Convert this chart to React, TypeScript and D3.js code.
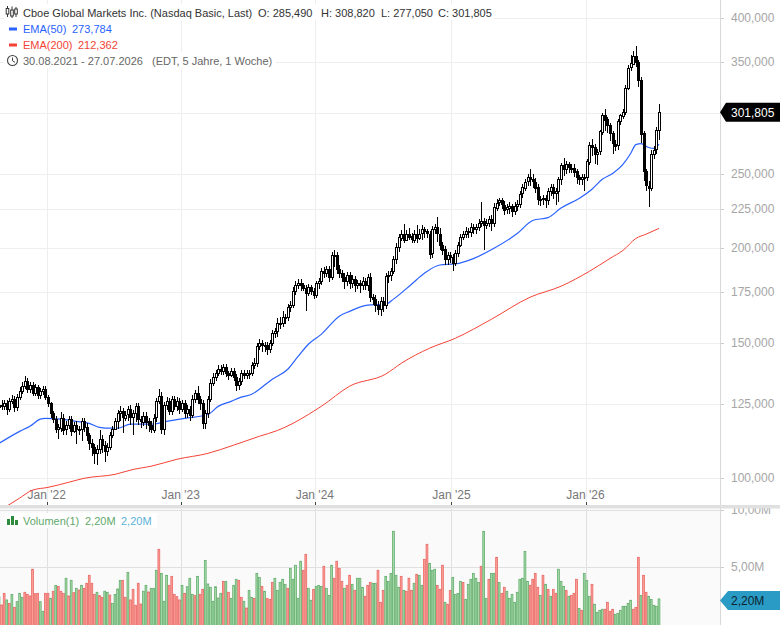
import React, { useRef, useEffect } from 'react';
import * as d3 from 'd3';

// weekly closes, one per week starting 30.08.2021
const closes = [
  124.6,124.2,125.3,123.1,126.1,126.9,123.9,127.7,130.0,132.0,
  134.0,130.8,132.4,129.2,131.6,128.4,130.0,130.8,127.7,125.3,
  121.6,119.4,115.9,116.6,120.1,115.9,117.3,119.4,115.2,117.3,
  115.9,115.9,118.7,116.6,113.8,111.1,109.9,107.8,109.1,112.5,
  110.5,108.5,109.9,113.8,115.9,118.7,121.6,122.4,120.1,121.2,
  123.1,120.1,121.6,124.2,119.4,118.7,120.8,118.7,117.3,115.9,
  120.1,126.1,128.0,115.9,124.6,126.1,122.4,126.9,124.2,126.1,
  123.1,125.3,121.6,123.1,120.8,126.9,129.2,126.9,125.3,118.0,
  121.6,126.9,133.2,135.7,137.3,139.0,138.1,139.8,137.3,136.5,
  138.1,135.7,132.4,134.0,137.3,136.5,137.3,137.3,140.6,141.4,
  148.9,150.2,149.3,149.3,147.5,150.2,154.9,155.8,159.6,159.6,
  162.4,162.4,167.4,168.5,175.7,179.0,180.0,179.0,177.3,174.6,
  177.9,175.7,173.5,180.0,181.0,186.6,185.5,187.7,183.2,195.8,
  195.8,187.7,185.5,183.2,181.0,184.3,180.0,182.1,179.0,180.0,
  179.0,181.0,179.0,183.2,172.6,171.5,168.5,166.4,170.5,168.5,
  183.8,184.3,186.6,193.4,200.5,206.7,209.1,205.4,209.1,207.3,
  205.4,209.1,206.7,209.1,211.7,210.4,209.1,196.9,211.7,213.0,
  209.1,202.3,199.3,193.4,195.8,194.6,191.1,196.9,201.7,206.7,
  208.5,210.4,209.8,213.0,211.7,213.0,215.6,216.9,214.2,215.6,
  218.2,215.6,226.2,229.6,231.0,228.2,224.8,226.2,227.5,224.2,
  227.5,228.9,235.9,240.3,244.6,247.7,246.2,244.6,240.3,231.7,
  231.7,232.4,231.0,237.4,240.3,235.9,237.4,246.2,256.7,253.6,
  257.5,255.1,255.1,252.1,247.7,246.2,247.7,247.7,259.8,273.4,
  271.8,266.1,267.7,284.4,299.3,294.9,289.6,282.7,274.2,272.6,
  293.1,298.5,302.0,324.7,344.8,349.3,357.5,351.1,332.6,282.7,
  252.1,241.6,240.3,266.1,269.3,285.49,301.805,
];

const highs = [
  126.0,126.5,126.8,126.5,127.5,128.5,128.2,129.0,131.5,133.5,
  136.2,135.2,133.8,133.6,132.8,132.6,131.2,132.0,132.0,128.5,
  126.0,122.5,120.5,117.8,122.0,121.5,118.8,120.5,120.6,118.5,
  119.0,117.2,119.8,119.8,118.0,114.8,112.5,111.0,110.5,115.5,
  113.8,111.8,111.2,115.0,117.2,120.0,123.0,124.5,123.6,122.5,
  124.5,124.8,122.8,125.5,125.6,120.5,122.0,122.2,120.0,119.0,
  121.5,127.5,130.8,129.6,126.0,127.8,127.2,128.2,128.0,127.8,
  127.5,126.8,126.5,124.8,124.2,128.5,130.6,132.0,128.0,126.8,
  122.8,128.2,134.8,137.5,138.8,140.6,140.8,141.2,141.0,138.2,
  139.5,139.4,136.8,135.4,138.8,138.4,138.8,138.8,142.0,143.5,
  150.5,152.0,151.5,150.8,150.8,151.8,156.5,157.5,162.0,162.8,
  165.5,164.2,169.2,170.5,177.8,181.0,182.5,182.2,180.2,179.2,
  179.5,179.2,177.5,181.5,183.0,188.5,189.0,189.5,189.8,197.8,
  199.0,197.5,190.0,187.2,185.5,186.0,186.0,184.5,183.8,182.0,
  182.0,183.5,183.0,185.0,185.5,174.5,173.5,170.5,172.5,172.8,
  185.5,186.5,188.5,195.5,203.0,209.0,211.5,215.0,211.5,212.5,
  209.5,211.5,214.5,212.0,214.5,213.5,212.0,210.5,214.0,215.5,
  220.0,212.5,204.0,201.5,197.5,197.5,196.5,199.0,204.0,209.0,
  211.0,213.5,212.5,216.0,215.5,215.5,218.5,230.0,219.0,218.5,
  220.5,221.0,229.0,232.0,233.0,232.5,230.5,228.5,230.0,228.5,
  230.0,231.0,238.0,242.5,246.5,250.0,254.0,250.0,247.0,243.0,
  234.0,235.0,234.5,239.5,243.0,243.0,239.5,248.0,258.5,262.5,
  260.0,259.5,258.0,258.0,254.0,249.5,250.0,250.0,262.0,275.5,
  278.0,274.0,270.0,286.0,301.0,304.0,297.0,292.0,285.0,277.0,
  295.0,300.0,304.0,327.0,347.0,358.0,362.0,368.0,353.0,335.0,
  285.0,254.0,245.0,269.0,272.0,288.0,308.82,
];

const lows = [
  122.5,123.0,123.0,121.0,122.0,125.0,122.0,122.5,126.5,129.0,
  131.0,129.5,129.5,128.0,128.0,127.0,127.0,128.5,126.5,124.0,
  120.0,118.0,114.5,112.5,115.0,114.0,114.0,116.0,113.5,114.5,
  111.0,114.0,112.0,115.0,112.0,109.0,107.0,104.5,104.2,107.5,
  108.0,105.0,107.0,109.0,113.0,115.5,116.0,119.0,114.5,119.0,
  119.0,117.5,114.0,118.5,117.5,116.5,117.0,116.0,115.0,114.5,
  114.5,118.5,125.0,114.2,114.0,123.0,121.0,121.0,123.0,122.5,
  121.5,122.0,120.0,120.0,119.0,120.0,125.5,125.0,123.0,116.0,
  116.0,120.0,126.0,132.0,134.0,136.0,136.5,136.5,135.5,134.5,
  135.5,134.0,130.0,130.5,132.5,135.0,135.0,135.0,136.0,139.0,
  140.0,147.0,146.5,146.5,145.0,146.0,149.0,152.5,153.0,157.0,
  158.0,159.0,160.5,165.0,167.0,174.0,177.0,176.0,176.0,165.5,
  173.0,173.5,171.5,172.0,177.0,179.0,183.0,183.5,180.5,182.0,
  189.0,185.0,183.0,180.5,177.0,178.5,177.0,177.5,175.5,177.0,
  175.0,176.5,176.5,176.0,170.0,168.5,165.0,163.5,163.0,165.0,
  166.5,180.0,181.0,185.0,191.0,198.0,204.5,203.0,205.0,205.0,
  203.0,203.5,203.0,205.0,205.0,206.0,206.0,193.5,194.0,209.0,
  204.0,199.0,196.0,190.0,190.0,191.5,186.5,189.5,195.0,201.0,
  205.0,206.0,206.0,207.0,209.0,209.0,211.0,213.0,199.0,212.0,
  213.0,211.0,213.0,224.0,227.0,225.0,221.0,222.0,222.0,220.0,
  221.0,224.0,226.0,233.0,238.0,241.0,241.0,240.0,236.0,228.0,
  227.0,228.0,226.0,228.0,234.0,232.0,228.0,230.0,242.0,249.0,
  250.0,251.0,251.0,248.0,243.0,242.0,242.0,238.0,245.0,257.0,
  264.0,258.0,257.0,265.0,281.0,285.0,283.0,276.0,266.0,268.0,
  269.0,290.0,295.0,299.0,322.0,341.0,347.0,345.0,325.0,275.0,
  245.0,238.0,226.5,238.0,262.0,266.0,277.05,
];

// EMA values at these weeks
const ema50Weeks = [0,8,12,16,18,24,30,35,39,43,46,51,59,65,72,81,85,90,94,98,101,106,112,116,120,125,132,136,143,150,153,160,165,171,177,184,192,201,207,213,218,225,230,234,238,242,245,247,249,252,254,256];
const ema50 = [111.1,115.2,117.0,119.5,119.8,119.5,118.7,118.0,116.6,116.3,116.3,117.7,117.7,118.7,119.8,121.2,124.2,126.1,127.7,128.8,130.8,134.8,138.9,144.4,149.8,154.3,163.0,165.4,168.5,169.0,171.6,179.5,185.5,190.2,190.8,193.9,200.0,209.1,217.5,219.4,225.8,232.4,239.0,246.2,250.6,257.5,266.1,273.4,274.2,271.0,270.2,273.784];
const ema200Weeks = [2,8,13,19,27,33,45,52,59,69,81,91,101,108,114,120,125,136,150,156,167,177,191,206,218,229,237,242,247,251,256];
const ema200 = [91.5,94.2,96.5,97.3,98.8,100.0,101.2,102.7,103.7,105.9,107.8,110.5,113.5,115.5,118.0,121.2,124.2,132.0,136.9,141.4,148.0,152.5,161.5,172.6,178.4,186.6,194.0,198.7,206.0,208.7,212.362];

// volume in millions
const volumes = [
  2.40,1.67,2.69,2.11,1.81,2.60,1.46,1.96,2.69,2.34,
  2.78,2.60,2.46,4.80,2.66,2.69,1.96,1.11,2.69,2.69,
  2.25,2.87,3.39,3.30,2.87,2.69,4.01,2.46,3.83,2.75,
  3.13,2.98,3.39,3.13,3.57,4.27,3.57,2.60,2.78,2.49,
  2.34,2.87,2.78,2.54,1.81,2.60,3.07,3.83,3.83,2.34,
  4.53,2.11,3.04,1.64,3.57,1.75,2.87,3.39,2.81,3.13,
  3.13,4.71,6.55,4.44,1.99,4.27,3.39,4.18,2.60,2.40,
  2.11,3.39,2.69,3.27,4.01,2.60,2.49,4.18,2.60,3.04,
  5.58,3.51,3.22,1.99,3.27,2.28,2.69,3.74,3.74,2.78,
  2.25,3.39,3.92,3.83,2.34,1.99,1.40,2.95,2.34,2.25,
  4.44,4.09,3.30,2.87,2.25,2.16,3.65,4.01,2.95,3.65,
  3.92,3.48,3.13,4.88,3.92,5.15,2.25,5.50,4.71,6.11,
  3.13,2.08,3.04,3.30,3.39,3.30,5.06,3.13,2.51,5.15,
  4.01,5.50,4.88,3.74,3.13,3.39,4.27,3.48,2.95,4.01,
  4.01,3.22,2.43,3.39,3.65,3.57,3.57,4.71,1.90,2.95,
  4.18,3.74,4.44,8.13,4.27,3.22,4.18,2.95,2.87,4.01,
  2.95,3.57,4.36,4.27,3.39,5.67,6.99,5.32,4.71,4.80,
  3.39,3.04,5.15,1.90,1.73,2.95,4.09,2.60,2.69,3.74,
  3.65,2.16,3.48,3.92,4.44,4.01,3.65,5.06,8.13,2.25,
  3.92,4.44,4.44,5.85,3.65,2.69,3.22,2.87,2.25,2.60,
  1.90,2.78,3.92,4.01,6.37,3.74,3.39,3.92,4.44,3.22,
  2.51,4.27,3.48,3.04,2.43,3.04,2.69,4.80,3.74,3.30,
  2.95,2.43,2.51,2.69,3.92,1.37,1.20,4.44,3.83,2.43,
  3.48,1.73,1.02,1.20,1.29,1.29,1.90,1.11,1.29,0.85,
  0.94,1.20,1.55,1.55,1.81,2.08,1.29,1.46,5.85,2.51,
  4.27,2.78,2.43,2.16,1.64,1.55,2.20,
];
// g = green bar, r = red bar
const volumeColors = (
  'grrgrgrggg' + 'rrrrrrggrr' + 'grgrrrgrgr' + 'grgrrrrrgr' + 'rggrggggrr' +
  'grrrrrggrg' + 'ggrgggrrrr' + 'rgrgggrgrr' + 'gggggggrgr' + 'gggrrgrggr' +
  'ggrgrrrggg' + 'ggrgggggrr' + 'ggrgggrggg' + 'rrrrgrrgrg' + 'ggrrrggrrr' +
  'ggggggrgrr' + 'rgrggrrggg' + 'rrrgrrgggg' + 'rggggggrgg' + 'rggrgrrggg' +
  'ggggggrrrr' + 'grgrgrrggg' + 'rgrrrgrggg' + 'rggggrrrrg' + 'ggggggrrrg' +
  'rrggggg'
);

const priceTicks = [100, 125, 150, 175, 200, 225, 250, 300, 350, 400];
const priceLabels = ['100,000', '125,000', '150,000', '175,000', '200,000', '225,000', '250,000', '', '350,000', '400,000'];
const volumeTicks = [5, 10];
const volumeLabels = ['5,00M', '10,00M'];
const yearTicks = [18.5, 70.5, 122.5, 175.5, 227.5];
const yearLabels = ["Jan '22", "Jan '23", "Jan '24", "Jan '25", "Jan '26"];

const FONT = '"Liberation Sans", Arial, sans-serif';

export default function App() {
  const svgRef = useRef<SVGSVGElement>(null);

  useEffect(() => {
    const svg = d3.select(svgRef.current);
    svg.selectAll('*').remove();
    svg.attr('font-family', FONT);

    const plotRight = 720;
    const x = d3.scaleLinear().domain([0, 256]).range([-1, 659]);
    const y = d3.scaleLog().domain([100, 400]).range([478.3, 18.3]);
    const yVol = d3.scaleLinear().domain([0, 10]).range([624, 510]);
    // candles sit on whole pixels so the outlines stay sharp
    const barX = (i: number) => Math.round(x(i));

    svg.append('rect').attr('width', 780).attr('height', 625).attr('fill', '#fff');
    svg.append('rect').attr('y', 509).attr('width', plotRight).attr('height', 116).attr('fill', '#fafafa');

    const defs = svg.append('defs');
    defs.append('clipPath').attr('id', 'price-clip').append('rect').attr('width', plotRight).attr('height', 505);

    // grid
    const grid = svg.append('g').attr('stroke-width', 1).attr('shape-rendering', 'crispEdges');
    priceTicks.forEach(t => {
      const py = Math.floor(y(t)) + 0.5;
      grid.append('line').attr('x1', 0).attr('x2', plotRight).attr('y1', py).attr('y2', py).attr('stroke', '#eeeeee');
    });
    yearTicks.forEach(t => {
      const px = Math.round(x(t)) + 0.5;
      grid.append('line').attr('x1', px).attr('x2', px).attr('y1', 0).attr('y2', 505).attr('stroke', '#eeeeee');
      grid.append('line').attr('x1', px).attr('x2', px).attr('y1', 509).attr('y2', 625).attr('stroke', '#e0e0e0');
    });
    volumeTicks.forEach(t => {
      const py = Math.round(yVol(t)) + 0.5;
      grid.append('line').attr('x1', 0).attr('x2', plotRight).attr('y1', py).attr('y2', py).attr('stroke', '#e0e0e0');
    });

    // x labels, the EMA(200) runs over them
    svg.append('g').selectAll('text').data(yearLabels).enter().append('text')
      .attr('x', (_, i) => x(yearTicks[i])).attr('y', 498.5).attr('text-anchor', 'middle')
      .attr('font-size', 12).attr('fill', '#777').text(d => d);

    // volume bars
    svg.append('g').selectAll('rect').data(volumes).enter().append('rect')
      .attr('x', (_, i) => x(i) - 0.9).attr('width', 1.8)
      .attr('y', d => yVol(d)).attr('height', d => 626 - yVol(d))
      .attr('fill', (_, i) => volumeColors[i] === 'g' ? '#a8dbaa' : '#fb9f9a')
      .attr('stroke', (_, i) => volumeColors[i] === 'g' ? '#62ad6c' : '#ea6a64')
      .attr('stroke-width', 0.8);

    // EMAs
    const price = svg.append('g').attr('clip-path', 'url(#price-clip)');
    const emaLine = d3.line<number>().x(d => x(d[0])).y(d => y(d[1])).curve(d3.curveMonotoneX);
    price.append('path').datum(ema200Weeks.map((w, i) => [w, ema200[i]]) as any).attr('d', emaLine as any)
      .attr('fill', 'none').attr('stroke', '#f44336').attr('stroke-width', 1);
    price.append('path').datum(ema50Weeks.map((w, i) => [w, ema50[i]]) as any).attr('d', emaLine as any)
      .attr('fill', 'none').attr('stroke', '#2962ff').attr('stroke-width', 1.2);

    // candles, open taken as the close of the week before
    const opens = closes.map((_, i) => (i === 0 ? 124.0 : closes[i - 1]));
    const candles = price.append('g').attr('shape-rendering', 'crispEdges').selectAll('g').data(closes).enter().append('g');
    candles.append('line')
      .attr('x1', (_, i) => barX(i) + 0.5).attr('x2', (_, i) => barX(i) + 0.5)
      .attr('y1', (_, i) => y(highs[i])).attr('y2', (_, i) => y(lows[i]))
      .attr('stroke', '#000').attr('stroke-width', 1);
    candles.append('rect')
      .attr('x', (_, i) => barX(i) - 0.5).attr('width', 2)
      .attr('y', (d, i) => Math.round(y(Math.max(d, opens[i]))) + 0.5)
      .attr('height', (d, i) => Math.max(1, Math.round(Math.abs(y(d) - y(opens[i])))))
      .attr('fill', (d, i) => (d >= opens[i] ? '#fff' : '#000'))
      .attr('stroke', '#000').attr('stroke-width', 1);

    // right axis
    const axis = svg.append('g').attr('font-size', 12).attr('fill', '#a6a6a6');
    priceTicks.forEach((t, i) => {
      const py = Math.floor(y(t)) + 0.5;
      if (priceLabels[i]) axis.append('text').attr('x', 731).attr('y', y(t) + 3.7).text(priceLabels[i]);
      axis.append('line').attr('x1', plotRight).attr('x2', 724).attr('y1', py).attr('y2', py).attr('stroke', '#ccc');
    });
    volumeTicks.forEach((t, i) => {
      const py = Math.round(yVol(t)) + 0.5;
      axis.append('text').attr('x', 731).attr('y', yVol(t) + 4).text(volumeLabels[i]);
      axis.append('line').attr('x1', plotRight).attr('x2', 724).attr('y1', py).attr('y2', py).attr('stroke', '#ccc');
    });
    svg.append('line').attr('x1', 720.5).attr('x2', 720.5).attr('y1', 0).attr('y2', 625).attr('stroke', '#d8d8d8');

    // separator between panes
    svg.append('rect').attr('y', 505).attr('width', 780).attr('height', 3.5).attr('fill', '#e0e0e0');
    yearTicks.forEach(t => {
      const px = Math.round(x(t)) + 0.5;
      svg.append('line').attr('x1', px).attr('x2', px).attr('y1', 502).attr('y2', 505).attr('stroke', '#444');
    });

    // value tags
    const tag = (yc: number, fill: string, color: string, label: string, inset: number) => {
      svg.append('path').attr('d', `M720,${yc} L${720 + inset},${yc - 9.5} L780,${yc - 9.5} L780,${yc + 9.5} L${720 + inset},${yc + 9.5} Z`).attr('fill', fill);
      svg.append('text').attr('x', 731).attr('y', yc + 4.5).attr('font-size', 12).attr('fill', color).text(label);
    };
    tag(y(301.805) + 0.5, '#000', '#fff', '301,805', 6);
    tag(600.5, '#2a9bc4', '#0b2530', '2,20M', 8);

    // legend
    const legendBox = (bx: number, by: number, w: number, h: number) =>
      svg.append('rect').attr('x', bx).attr('y', by).attr('width', w).attr('height', h).attr('fill', '#fff');
    const label = (lx: number, ly: number, fill: string, s: string) =>
      svg.append('text').attr('x', lx).attr('y', ly).attr('font-size', 11).attr('fill', fill).text(s);

    legendBox(4, 4, 490, 16);
    legendBox(4, 20, 112, 16);
    legendBox(4, 36, 118, 16);
    legendBox(4, 52, 272, 16);
    legendBox(5, 513, 152, 15);

    label(23, 16.5, '#333', 'Cboe Global Markets Inc. (Nasdaq Basic, Last)');
    label(258, 16.5, '#333', 'O: 285,490');
    label(321, 16.5, '#333', 'H: 308,820');
    label(381, 16.5, '#333', 'L: 277,050');
    label(438, 16.5, '#333', 'C: 301,805');
    label(23, 32.5, '#2962ff', 'EMA(50)');
    label(72, 32.5, '#2962ff', '273,784');
    label(23, 48.5, '#f44336', 'EMA(200)');
    label(78, 48.5, '#f44336', '212,362');
    label(23, 64.5, '#666', '30.08.2021 - 27.07.2026');
    label(152, 64.5, '#666', '(EDT, 5 Jahre, 1 Woche)');
    label(23, 524.5, '#5fa86a', 'Volumen(1)');
    label(85, 524.5, '#5fa86a', '2,20M');
    label(121, 524.5, '#5bb0d8', '2,20M');

    // legend icons
    const icon = svg.append('g');
    [[7.5, 8.5, 14, 6, 17], [12, 10, 16, 6.5, 18], [16, 9, 14, 7, 17]].forEach(([ix, t, b, hi, lo]) => {
      icon.append('line').attr('x1', ix).attr('x2', ix).attr('y1', hi).attr('y2', lo).attr('stroke', '#333');
      icon.append('rect').attr('x', ix - 1.3).attr('y', t).attr('width', 2.6).attr('height', b - t).attr('fill', '#fff').attr('stroke', '#333');
    });
    icon.append('rect').attr('x', 9).attr('y', 27.5).attr('width', 8).attr('height', 3).attr('fill', '#2962ff');
    icon.append('rect').attr('x', 9).attr('y', 43.5).attr('width', 8).attr('height', 3).attr('fill', '#f44336');
    icon.append('circle').attr('cx', 12.5).attr('cy', 60.5).attr('r', 5).attr('fill', 'none').attr('stroke', '#444').attr('stroke-width', 1.1);
    icon.append('path').attr('d', 'M12.5,57.5 V60.8 L15,62.3').attr('fill', 'none').attr('stroke', '#444').attr('stroke-width', 1);
    [[7, 519, 3, 6], [11, 516, 3, 9], [15, 520, 3, 5]].forEach(([ix, iy, w, h]) => {
      icon.append('rect').attr('x', ix).attr('y', iy).attr('width', w).attr('height', h).attr('fill', '#2e8b3d');
    });
  }, []);

  return <svg ref={svgRef} width={780} height={625} style={{ position: 'absolute', left: 0, top: 0 }} />;
}
